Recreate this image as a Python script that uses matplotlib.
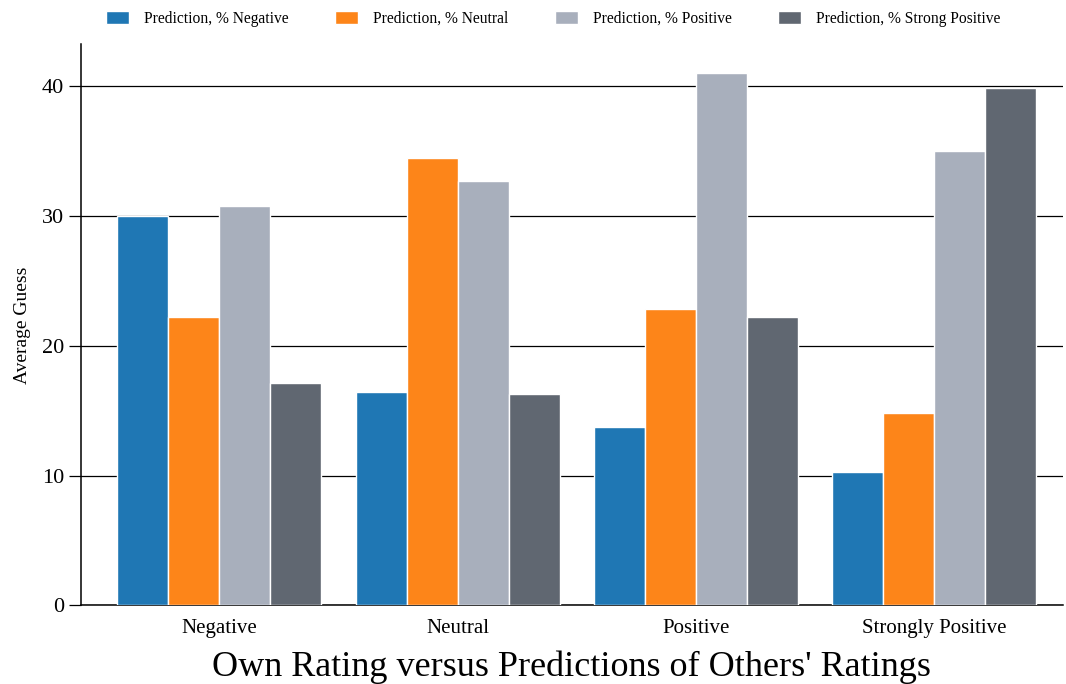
import matplotlib.pyplot as plt
import numpy as np

plt.rcParams['font.family'] = ['Liberation Serif', 'DejaVu Serif']

categories = ['Negative', 'Neutral', 'Positive', 'Strongly Positive']
series_names = ['Prediction, % Negative', 'Prediction, % Neutral',
                'Prediction, % Positive', 'Prediction, % Strong Positive']
pred_negative = [30.0, 16.4, 13.7, 10.25]
pred_neutral = [22.2, 34.45, 22.8, 14.8]
pred_positive = [30.75, 32.7, 41.0, 35.0]
pred_strong = [17.1, 16.3, 22.2, 39.85]
colors = ['#1f77b4', '#fd8519', '#a8afbc', '#606771']

fig = plt.figure(figsize=(10.66, 6.84), dpi=100)
ax = fig.add_axes([0.076, 0.115, 0.921, 0.82])

x = np.arange(len(categories))
w = 0.214
data = [pred_negative, pred_neutral, pred_positive, pred_strong]
for i, vals in enumerate(data):
    ax.bar(x + (i - 1.5) * w, vals, w, color=colors[i], edgecolor='white',
           linewidth=1, label=series_names[i], zorder=3)

ax.set_ylim(0, 43.2)
ax.set_xlim(-0.58, 3.54)
ax.set_yticks([0, 10, 20, 30, 40])
ax.yaxis.grid(True, color='black', linewidth=0.9, zorder=0)
ax.set_axisbelow(True)
ax.set_xticks(x)
ax.set_xticklabels(categories, fontsize=15)
ax.tick_params(axis='x', length=0, pad=10)
ax.tick_params(axis='y', labelsize=16, length=9, width=0.9, direction='out', pad=3)
for s in ['top', 'right']:
    ax.spines[s].set_visible(False)
ax.spines['left'].set_linewidth(1.1)
ax.spines['bottom'].set_linewidth(1.1)
ax.set_ylabel('Average Guess', fontsize=14, labelpad=8)
ax.set_xlabel("Own Rating versus Predictions of Others' Ratings", fontsize=26, labelpad=9)

fig.legend(loc='upper center', bbox_to_anchor=(0.519, 1.005), ncol=4, frameon=False,
           fontsize=11.2, handlelength=1.5, handleheight=0.92, columnspacing=2.95,
           handletextpad=0.98)

fig.savefig('out.png', dpi=100)
